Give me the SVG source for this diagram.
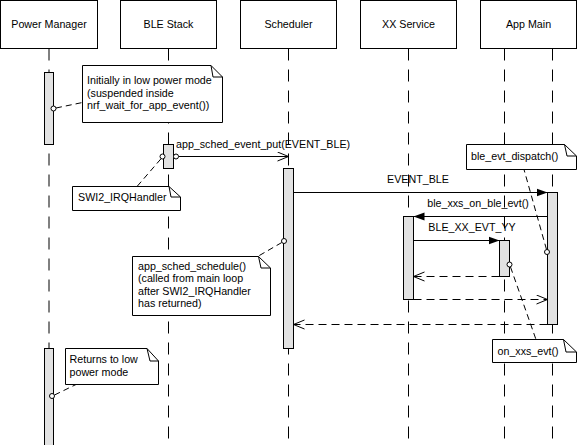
<svg xmlns="http://www.w3.org/2000/svg" width="577" height="445" viewBox="0 0 577 445">
<style>
text{font-family:"Liberation Sans",Arial,sans-serif;font-size:10.7px;fill:#000}
.hdr{fill:#fff;stroke:#000;stroke-width:1}
.life{stroke:#000;stroke-width:1;stroke-dasharray:12 9;fill:none}
.act{fill:#e2e2e2;stroke:#000;stroke-width:1}
.note{fill:#fff;stroke:#000;stroke-width:1}
.fold{fill:none;stroke:#000;stroke-width:1}
.msg{stroke:#000;stroke-width:1;fill:none}
.ret{stroke:#000;stroke-width:1;fill:none;stroke-dasharray:8 5}
.link{stroke:#000;stroke-width:1;fill:none;stroke-dasharray:6 4}
.dot{fill:#fff;stroke:#000;stroke-width:1}
</style>
<defs>
<marker id="filled" markerUnits="userSpaceOnUse" markerWidth="12" markerHeight="10" refX="11" refY="4.5" orient="auto">
<path d="M0,0.5 L11,4.5 L0,8.5 z" fill="#000"/>
</marker>
<marker id="open" markerUnits="userSpaceOnUse" markerWidth="13" markerHeight="11" refX="11.5" refY="5" orient="auto">
<path d="M0.5,0.5 L11.5,5 L0.5,9.5" fill="none" stroke="#000" stroke-width="1"/>
</marker>
</defs>

<g id="lifelines">
<line class="life" x1="49" y1="48.5" x2="49" y2="445"/>
<line class="life" x1="168.5" y1="48.5" x2="168.5" y2="445"/>
<line class="life" x1="288.5" y1="48.5" x2="288.5" y2="445"/>
<line class="life" x1="408.5" y1="48.5" x2="408.5" y2="445"/>
<line class="life" x1="504.5" y1="48.5" x2="504.5" y2="445"/>
<line class="life" x1="552.5" y1="48.5" x2="552.5" y2="445"/>
</g>

<g id="power-manager">
<rect class="hdr" x="0.5" y="0.5" width="97" height="48"/>
<text x="49" y="28" text-anchor="middle">Power Manager</text>
<rect class="act" x="44.5" y="72.5" width="9" height="72"/>
<rect class="act" x="44.5" y="348.5" width="9" height="97"/>
</g>

<g id="ble-stack">
<rect class="hdr" x="120.5" y="0.5" width="96" height="48"/>
<text x="168.5" y="28" text-anchor="middle">BLE Stack</text>
<rect class="act" x="163.5" y="144.5" width="10" height="24"/>
</g>

<g id="scheduler">
<rect class="hdr" x="240.5" y="0.5" width="96" height="48"/>
<text x="288.5" y="28" text-anchor="middle">Scheduler</text>
<rect class="act" x="283.5" y="168.5" width="10" height="180"/>
</g>

<g id="xx-service">
<rect class="hdr" x="360.5" y="0.5" width="96" height="48"/>
<text x="408.5" y="28" text-anchor="middle">XX Service</text>
<rect class="act" x="403.5" y="216.5" width="10" height="83"/>
</g>

<g id="app-main">
<rect class="hdr" x="480.5" y="0.5" width="96" height="48"/>
<text x="528.5" y="28" text-anchor="middle">App Main</text>
<rect class="act" x="547.5" y="192.5" width="10" height="132"/>
<rect class="act" x="499.5" y="240.5" width="10" height="36"/>
</g>

<g id="note-initially">
<path class="note" d="M82.5,65.5 H211 L222.5,77 V122.5 H82.5 Z"/>
<path class="fold" d="M211,65.5 L213,77 H222.5"/>
<text x="87" y="84">Initially in low power mode</text>
<text x="87" y="96.5">(suspended inside</text>
<text x="87" y="109">nrf_wait_for_app_event())</text>
</g>

<g id="note-swi2">
<path class="note" d="M72.5,186.5 H169 L180.5,197 V210.5 H72.5 Z"/>
<path class="fold" d="M169,186.5 L171,197 H180.5"/>
<text x="78" y="201">SWI2_IRQHandler</text>
</g>

<g id="note-schedule">
<path class="note" d="M132.5,256.5 H258.5 L270.5,268 V315.5 H132.5 Z"/>
<path class="fold" d="M258.5,256.5 L261,268 H270.5"/>
<text x="138" y="269.5">app_sched_schedule()</text>
<text x="138" y="282">(called from main loop</text>
<text x="138" y="294.5">after SWI2_IRQHandler</text>
<text x="138" y="307">has returned)</text>
</g>

<g id="note-dispatch">
<path class="note" d="M466.5,144.5 H564.5 L576.5,156 V169.5 H466.5 Z"/>
<path class="fold" d="M564.5,144.5 L567,156 H576.5"/>
<text x="471" y="160">ble_evt_dispatch()</text>
</g>

<g id="note-on-xxs">
<path class="note" d="M492.5,339.5 H563.5 L576.5,352 V362.5 H492.5 Z"/>
<path class="fold" d="M563.5,339.5 L566,352 H576.5"/>
<text x="497.5" y="355">on_xxs_evt()</text>
</g>

<g id="note-returns">
<path class="note" d="M65.5,348.5 H147 L158.5,361 V384.5 H65.5 Z"/>
<path class="fold" d="M147,348.5 L150,361 H158.5"/>
<text x="69.5" y="363">Returns to low</text>
<text x="69.5" y="375.5">power mode</text>
</g>

<g id="connectors">
<line class="msg" x1="178.5" y1="156.5" x2="288.5" y2="156.5" marker-end="url(#open)"/>
<text x="176" y="148">app_sched_event_put(EVENT_BLE)</text>
<line class="msg" x1="293.5" y1="192.5" x2="547.5" y2="192.5" marker-end="url(#filled)"/>
<text x="418" y="183" text-anchor="middle">EVENT_BLE</text>
<line class="msg" x1="547.5" y1="216.5" x2="413.5" y2="216.5" marker-end="url(#filled)"/>
<text x="478" y="207" text-anchor="middle">ble_xxs_on_ble_evt()</text>
<line class="msg" x1="413.5" y1="240.5" x2="499.5" y2="240.5" marker-end="url(#filled)"/>
<text x="472" y="231" text-anchor="middle">BLE_XX_EVT_YY</text>
<line class="ret" x1="499.5" y1="276.5" x2="413.5" y2="276.5" marker-end="url(#open)"/>
<line class="ret" x1="413.5" y1="299.5" x2="547.5" y2="299.5" marker-end="url(#open)"/>
<line class="ret" x1="547.5" y1="324.5" x2="293.5" y2="324.5" marker-end="url(#open)"/>

<line class="link" x1="56" y1="108" x2="82.5" y2="102.5"/>
<line class="link" x1="160.8" y1="159" x2="137" y2="186.5"/>
<line class="link" x1="281.8" y1="242.5" x2="258.5" y2="256"/>
<line class="link" x1="546.5" y1="249.5" x2="524" y2="169.5"/>
<line class="link" x1="510.5" y1="267" x2="536" y2="339.5"/>
<line class="link" x1="54.5" y1="395" x2="76" y2="384.5"/>

<circle class="dot" cx="53.5" cy="108.5" r="2.5"/>
<circle class="dot" cx="162.5" cy="156.5" r="2.5"/>
<circle class="dot" cx="176" cy="156.5" r="2.5"/>
<circle class="dot" cx="284" cy="241" r="2.5"/>
<circle class="dot" cx="547" cy="252" r="2.5"/>
<circle class="dot" cx="509.5" cy="264.5" r="2.5"/>
<circle class="dot" cx="52" cy="396" r="2.5"/>
</g>
</svg>
